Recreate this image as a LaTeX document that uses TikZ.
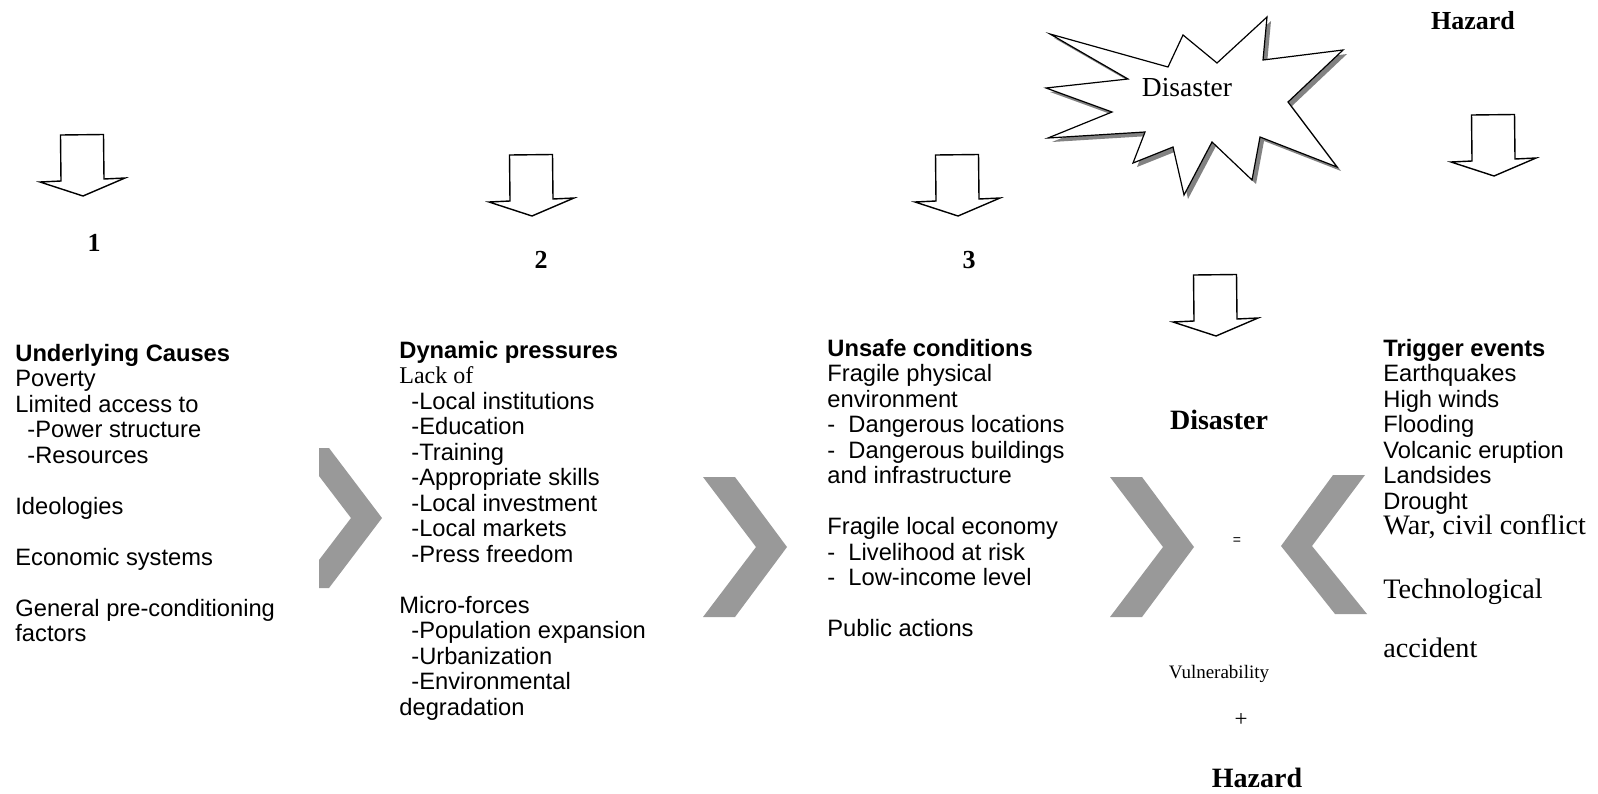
\documentclass[tikz,border=0pt]{standalone}
\usepackage{fontspec}
\setmainfont{Liberation Serif}
\setsansfont{Liberation Sans}
\definecolor{chevron}{RGB}{153,153,153}
\definecolor{burstshade}{RGB}{130,130,130}
\usetikzlibrary{calc}

\begin{document}
\begin{tikzpicture}[x=0.5pt, y=-0.5pt,
        col/.style={anchor=north west, align=left, inner sep=0pt,
            font=\sffamily\fontsize{11.85}{12.75}\selectfont},
        serifline/.style={anchor=base west, inner sep=0pt,
            font=\rmfamily\fontsize{14.1}{16}\selectfont},
        num/.style={anchor=base, inner sep=0pt,
            font=\rmfamily\bfseries\fontsize{13}{15}\selectfont},
        blockarrow/.style={draw=black, line width=0.7pt, fill=white, line join=miter},
        chev/.style={fill=chevron},
        burstback/.style={fill=burstshade},
        burstfront/.style={fill=white, draw=black, line width=0.6pt, line join=miter}]
    \useasboundingbox (0,0) rectangle (1598,793);

    % Down block arrows over the columns
    \foreach \cx/\ty in {82/135, 531/155, 957/155, 1215/275, 1493/115} {
        \draw[blockarrow] (\cx-21.5,\ty) -- (\cx+21.5,\ty-0.5) -- (\cx+22,\ty+44)
            -- (\cx+43,\ty+43) -- (\cx+1,\ty+61) -- (\cx-42,\ty+47) -- (\cx-21,\ty+46) -- cycle;
    }

    % Starburst with its shadow
    \foreach \off/\sty in {4/burstback, 0/burstfront} {
        \path[\sty, shift={(\off,\off)}] (1050,34) -- (1168,67) -- (1183,35) -- (1217,63)
            -- (1267,17) -- (1263,60) -- (1343,50) -- (1288,102) -- (1337,167)
            -- (1260,137) -- (1252,180) -- (1212,142) -- (1184,195) -- (1173,147)
            -- (1133,163) -- (1145,132) -- (1048,138) -- (1112,112) -- (1046,88)
            -- (1128,79) -- cycle;
    }
    \node[anchor=base, inner sep=0pt, font=\rmfamily\fontsize{13.75}{16}\selectfont]
        (burst) at (1187,96) {Disaster};

    % Gray chevrons
    \fill[chev] (319,448) -- (329,448) -- (382,518) -- (329,588) -- (319,588)
        -- (319,560) -- (351,518) -- (319,476) -- cycle;
    \foreach \x in {703, 1110} {
        \fill[chev] (\x,477) -- (\x+32,477) -- (\x+84,547) -- (\x+32,617)
            -- (\x,617) -- (\x+53,547) -- cycle;
    }
    \fill[chev] (1365,475) -- (1333,475) -- (1281,546) -- (1335,614) -- (1367,614)
        -- (1312,546) -- cycle;

    % Step numbers and labels
    \node[num] (one) at (94,251) {1};
    \node[num] (two) at (541,268) {2};
    \node[num] (three) at (969,268) {3};
    \node[num] (hazardtop) at (1473,29) {Hazard};
    \node[num, font=\rmfamily\bfseries\fontsize{14}{16}\selectfont] (disaster) at (1219,429) {Disaster};
    \node[anchor=center, inner sep=0pt, font=\sffamily\fontsize{7}{8}\selectfont] (equals) at (1237,541) {=};
    \node[anchor=base, inner sep=0pt, font=\rmfamily\fontsize{9.5}{11}\selectfont] (vuln) at (1219,678) {Vulnerability};
    \node[anchor=center, inner sep=0pt, font=\rmfamily\fontsize{11.5}{14}\selectfont] (plus) at (1241,720) {+};
    \node[num, font=\rmfamily\bfseries\fontsize{14}{16}\selectfont] (hazardbot) at (1257,787) {Hazard};

    % Column texts
    \node[col] (causes) at (15,343.5) {\textbf{Underlying Causes}\\
        Poverty\\
        Limited access to\\
        \hspace*{6pt}-Power structure\\
        \hspace*{6pt}-Resources\\
        \mbox{}\\
        Ideologies\\
        \mbox{}\\
        Economic systems\\
        \mbox{}\\
        General pre-conditioning\\
        factors};

    \node[col] (pressures) at (399,340.5) {\textbf{Dynamic pressures}\\
        {\rmfamily\fontsize{12}{12.75}\selectfont Lack of}\\
        \hspace*{6pt}-Local institutions\\
        \hspace*{6pt}-Education\\
        \hspace*{6pt}-Training\\
        \hspace*{6pt}-Appropriate skills\\
        \hspace*{6pt}-Local investment\\
        \hspace*{6pt}-Local markets\\
        \hspace*{6pt}-Press freedom\\
        \mbox{}\\
        Micro-forces\\
        \hspace*{6pt}-Population expansion\\
        \hspace*{6pt}-Urbanization\\
        \hspace*{6pt}-Environmental\\
        degradation};

    \node[col] (unsafe) at (827,338.5) {\textbf{Unsafe conditions}\\
        Fragile physical\\
        environment\\
        -~~Dangerous locations\\
        -~~Dangerous buildings\\
        and infrastructure\\
        \mbox{}\\
        Fragile local economy\\
        -~~Livelihood at risk\\
        -~~Low-income level\\
        \mbox{}\\
        Public actions};

    \node[col] (trigger) at (1383,338.5) {\textbf{Trigger events}\\
        Earthquakes\\
        High winds\\
        Flooding\\
        Volcanic eruption\\
        Landsides\\
        Drought};
    \node[serifline] (war) at (1383,534) {War, civil conflict};
    \node[serifline] (tech) at (1383,598) {Technological};
    \node[serifline] (accident) at (1383,657) {accident};
\end{tikzpicture}
\end{document}
